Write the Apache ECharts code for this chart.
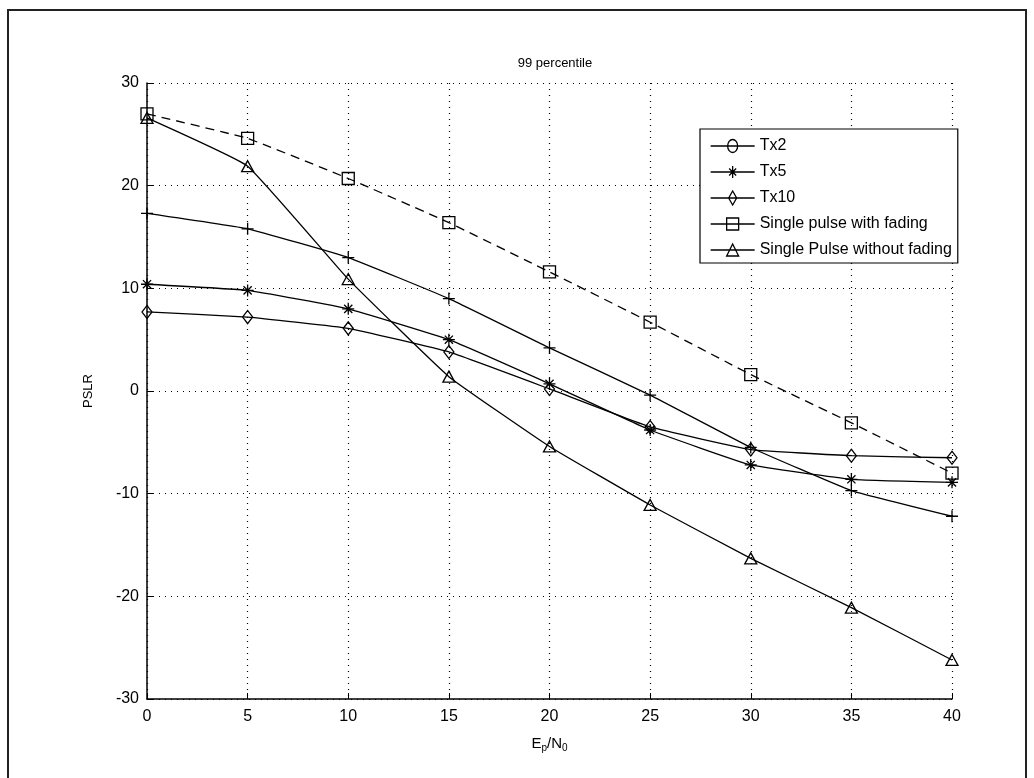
<!DOCTYPE html>
<html>
<head>
<meta charset="utf-8">
<script src="https://cdn.jsdelivr.net/npm/echarts@6/dist/echarts.min.js"></script>
<style>
html,body{margin:0;padding:0;background:#fff;}
#chart{width:1034px;height:778px;}
</style>
</head>
<body>
<div id="chart"></div>
<script>
const xValues = [0, 5, 10, 15, 20, 25, 30, 35, 40];
const tx2 = [17.3, 15.8, 13.0, 9.0, 4.2, -0.4, -5.5, -9.7, -12.2];
const tx5 = [10.4, 9.8, 8.0, 5.0, 0.7, -3.8, -7.2, -8.6, -8.9];
const tx10 = [7.7, 7.2, 6.1, 3.8, 0.2, -3.5, -5.7, -6.3, -6.5];
const singleFading = [27.0, 24.6, 20.7, 16.4, 11.6, 6.7, 1.6, -3.1, -8.0];
const singleNoFading = [26.6, 21.9, 10.9, 1.4, -5.4, -11.1, -16.3, -21.1, -26.2];
const seriesNames = ['Tx2', 'Tx5', 'Tx10', 'Single pulse with fading', 'Single Pulse without fading'];

const FONT = '"Liberation Sans", Arial, sans-serif';
const pair = arr => xValues.map((x, i) => [x, arr[i]]);

const SYM_PLUS = 'path://M0,5L10,5M5,0L5,10';
const SYM_STAR = 'path://M0,5L10,5M5,0L5,10M1.6,1.6L8.4,8.4M8.4,1.6L1.6,8.4';

const L = 'M0,8L44,8';
const legendIcons = [
  'path://' + L + 'M27,8A5,6.5,0,1,1,17,8A5,6.5,0,1,1,27,8',
  'path://' + L + 'M17,8L27,8M22,2L22,14M18.5,4.5L25.5,11.5M25.5,4.5L18.5,11.5',
  'path://' + L + 'M22,1L26,8L22,15L18,8Z',
  'path://' + L + 'M16,2L28,2L28,14L16,14Z',
  'path://' + L + 'M22,2L28,14L16,14Z'
];

function mk(name, data, symbol, size, dashed) {
  return {
    name: name,
    type: 'line',
    data: pair(data),
    smooth: 0.1,
    symbol: symbol,
    symbolSize: size,
    showAllSymbol: true,
    lineStyle: { color: '#000', width: 1.3, type: dashed ? [9, 6] : 'solid' },
    itemStyle: { color: 'rgba(255,255,255,0)', borderColor: '#000', borderWidth: 1.3 },
    emphasis: { disabled: true },
    z: 3
  };
}

const chart = echarts.init(document.getElementById('chart'), null, { renderer: 'canvas' });
chart.setOption({
  animation: false,
  backgroundColor: '#fff',
  title: {
    text: '99 percentile',
    left: 550,
    textAlign: 'center',
    top: 52,
    textStyle: { fontFamily: FONT, fontSize: 13, fontWeight: 'normal', color: '#000' }
  },
  grid: { left: 147, right: 82, top: 83, bottom: 79, containLabel: false },
  xAxis: {
    type: 'value', min: 0, max: 40, interval: 5,
    name: 'E{sub|p}/N{sub|0}',
    nameLocation: 'middle', nameGap: 36,
    nameTextStyle: {
      fontFamily: FONT, fontSize: 15, color: '#000',
      rich: { sub: { fontFamily: FONT, fontSize: 10, color: '#000', verticalAlign: 'bottom', padding: [8, 0, 0, 0] } }
    },
    axisLine: { onZero: false, lineStyle: { color: '#000', width: 1.5 } },
    axisTick: { inside: true, length: 6, lineStyle: { color: '#000' } },
    axisLabel: { fontFamily: FONT, fontSize: 16, color: '#000', margin: 10 },
    splitLine: { show: true, lineStyle: { color: '#000', type: [1, 5], width: 1.2 } }
  },
  yAxis: {
    type: 'value', min: -30, max: 30, interval: 10,
    name: 'PSLR',
    nameLocation: 'middle', nameGap: 52,
    nameTextStyle: { fontFamily: FONT, fontSize: 13, color: '#000' },
    axisLine: { show: true, onZero: false, lineStyle: { color: '#000', width: 1.5 } },
    axisTick: { show: true, inside: true, length: 6, lineStyle: { color: '#000' } },
    axisLabel: { fontFamily: FONT, fontSize: 16, color: '#000', margin: 8 },
    splitLine: { show: true, lineStyle: { color: '#000', type: [1, 5], width: 1.2 } }
  },
  legend: {
    orient: 'vertical',
    left: 700, top: 129,
    padding: [9, 6, 5, 10],
    backgroundColor: '#fff',
    borderColor: '#000', borderWidth: 1.2, borderRadius: 0,
    itemWidth: 44, itemHeight: 16, itemGap: 10,
    selectedMode: false,
    textStyle: { fontFamily: FONT, fontSize: 16, color: '#000' },
    itemStyle: { color: 'rgba(255,255,255,0)', borderColor: '#000', borderWidth: 1.3 },
    data: seriesNames.map((n, i) => ({ name: n, icon: legendIcons[i] }))
  },
  series: [
    mk(seriesNames[0], tx2, SYM_PLUS, 12, false),
    mk(seriesNames[1], tx5, SYM_STAR, 12, false),
    mk(seriesNames[2], tx10, 'diamond', [10, 13], false),
    mk(seriesNames[3], singleFading, 'rect', 12, true),
    mk(seriesNames[4], singleNoFading, 'triangle', [12, 11], false)
  ],
  graphic: [{
    type: 'rect', silent: true,
    shape: { x: 8, y: 10, width: 1018, height: 800 },
    style: { fill: 'none', stroke: '#222', lineWidth: 2 }
  }]
});
</script>
</body>
</html>
